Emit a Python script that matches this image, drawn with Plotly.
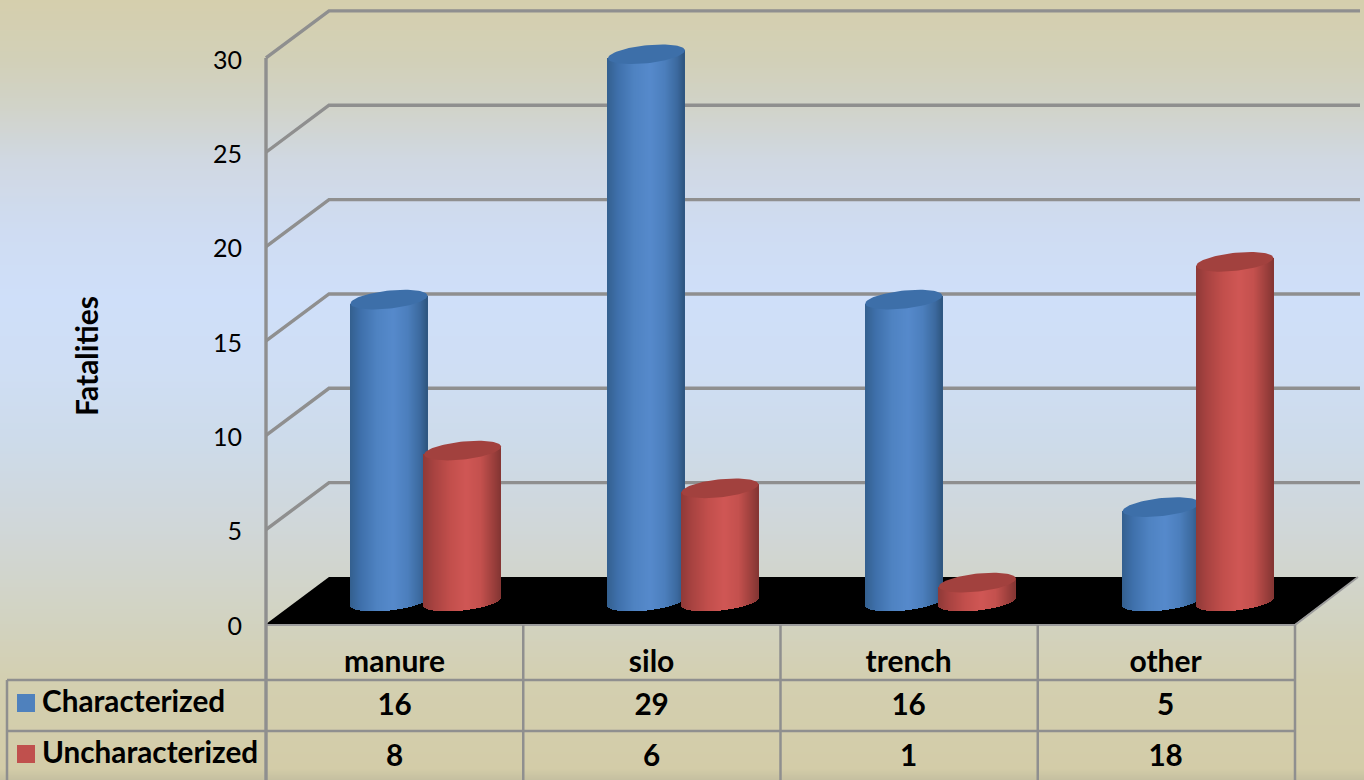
import numpy as np
import plotly.graph_objects as go

# ---- data ----
categories = ["manure", "silo", "trench", "other"]
characterized = [16, 29, 16, 5]
uncharacterized = [8, 6, 1, 18]
y_ticks = [0, 5, 10, 15, 20, 25, 30]
series_names = ["Characterized", "Uncharacterized"]
y_title = "Fatalities"

# ---- canvas geometry: axes span the whole 1364x780 page ----
W, H = 1364, 780
PX_PER_VAL = 18.87
PX_PER_CAT = 257.0
X0_PX, Y0_PX = 394.6, 624.0


def X(px):
    return (np.asarray(px, dtype=float) - X0_PX) / PX_PER_CAT


def Y(py):
    return (Y0_PX - np.asarray(py, dtype=float)) / PX_PER_VAL


x_range = [float(X(0)), float(X(W))]
y_range = [float(Y(H)), float(Y(0))]
FONT = "Lato"
GRID = "#8f8f8f"

fig = go.Figure()

# background gradient
bg_stops = [(0, "#d5cfad"), (60, "#d2d0b8"), (105, "#d1d3c8"), (160, "#d0d8e2"),
            (230, "#cfdcf2"), (300, "#cfdff9"), (370, "#cfdef4"), (440, "#cddbea"),
            (520, "#d0d7da"), (600, "#d2d4c6"), (680, "#d3cfb0"), (768, "#d3cca8"), (780, "#c4bfa0")]
col_scale = [[p / H, c] for p, c in bg_stops]
rows = np.linspace(0, H, 157)
fig.add_trace(go.Heatmap(x=x_range, y=Y(rows), z=[[r, r] for r in rows], zmin=0, zmax=H,
                         colorscale=col_scale, showscale=False, zsmooth="best", hoverinfo="skip"))


def line(px_x, px_y, width=3, color=GRID):
    fig.add_trace(go.Scatter(x=X(px_x), y=Y(px_y), mode="lines", hoverinfo="skip",
                             line=dict(color=color, width=width), showlegend=False))


# depth of the 3D box
DX, DY = 63.0, 47.0
FRONT_L, FRONT_R = 266.0, 1295.0

# back wall grid lines with the diagonal side wall
for v in y_ticks[1:]:
    fy = Y0_PX - v * PX_PER_VAL
    line([FRONT_L, FRONT_L + DX, FRONT_R + DX + 2], [fy, fy - DY, fy - DY], width=3.4)

# floor
fig.add_trace(go.Scatter(
    x=X([FRONT_L, FRONT_L + DX, FRONT_R + DX, FRONT_R, FRONT_L]),
    y=Y([Y0_PX, Y0_PX - DY, Y0_PX - DY, Y0_PX, Y0_PX]),
    mode="lines", fill="toself", fillcolor="#000000", line=dict(color="rgba(0,0,0,0)", width=0),
    hoverinfo="skip", showlegend=False))
line([FRONT_R + DX, FRONT_R, FRONT_L], [Y0_PX - DY, Y0_PX + 1, Y0_PX + 1], width=2, color="#9c9c9c")

# left axis + data table rules
TABLE_ROWS = [680.0, 731.0]
line([FRONT_L, FRONT_L], [Y0_PX - max(y_ticks) * PX_PER_VAL, H], width=3.4)
for i in range(1, len(categories) + 1):
    line([FRONT_L + i * (FRONT_R - FRONT_L) / 4] * 2, [Y0_PX + 1, H], width=2.5)
for ry in TABLE_ROWS:
    line([7, FRONT_R], [ry, ry], width=2.5)
line([7, 7], [TABLE_ROWS[0], H], width=2.5)

# ---- cylinders ----
HALF_W = 38.5
ELL_B = 9.0
ELL_S = 4.0
BASE_PX = 601.5  # centre of the cylinder foot on screen
SLICES = np.arange(-HALF_W + 0.5, HALF_W + 0.5, 1.0)
CYL_SPACING = 257.4
SERIES_DX = [-5.6, 68.0]

shade_pos = [-1.0, -0.72, -0.3, 0.12, 0.5, 0.82, 1.0]
shade_blue = ["#34608f", "#3f70ab", "#4f83c2", "#568acc", "#4c7fbd", "#3c6a9f", "#2f5680"]
shade_red = ["#8f3a38", "#a84341", "#c24f4c", "#d05755", "#c4514e", "#9d403d", "#853634"]
cap_color = ["#3d6fa9", "#a2413e"]


def hex2rgb(h):
    return np.array([int(h[i:i + 2], 16) for i in (1, 3, 5)], dtype=float)


def shades(stops):
    arr = np.array([hex2rgb(s) for s in stops])
    t = SLICES / HALF_W
    return ["rgb(%d,%d,%d)" % tuple(np.interp(tt, shade_pos, arr[:, c]) for c in range(3)) for tt in t]


for s, (vals, stops) in enumerate(zip([characterized, uncharacterized], [shade_blue, shade_red])):
    xa, ya = ("x%d" % (s + 2), "y%d" % (s + 2))
    colors = shades(stops)
    for i, val in enumerate(vals):
        cx = X0_PX + i * CYL_SPACING + SERIES_DX[s]
        t = SLICES / HALF_W
        front = ELL_B * np.sqrt(np.clip(1 - t ** 2, 0, 1))
        tilt = -ELL_S * t
        bottom_px = BASE_PX + tilt + front
        top_px = BASE_PX - val * PX_PER_VAL + tilt
        fig.add_trace(go.Bar(x=X(cx + SLICES), base=Y(bottom_px), y=Y(top_px) - Y(bottom_px),
                             width=1.4 / PX_PER_CAT, marker=dict(color=colors, line=dict(width=0)),
                             xaxis=xa, yaxis=ya, name=series_names[s], hoverinfo="skip", showlegend=False))
        th = np.linspace(0, 2 * np.pi, 90)
        cap_x = cx + HALF_W * np.cos(th)
        cap_y = BASE_PX - val * PX_PER_VAL - ELL_S * np.cos(th) + ELL_B * np.sin(th)
        fig.add_trace(go.Scatter(x=X(cap_x), y=Y(cap_y), mode="lines", fill="toself",
                                 fillcolor=cap_color[s], line=dict(width=0, color=cap_color[s]),
                                 xaxis=xa, yaxis=ya, hoverinfo="skip", showlegend=False))

# ---- table text ----
cat_x = list(range(len(categories)))
TXT = dict(family=FONT, size=29.7, color="#000000", weight="bold")
for row_py, vals in zip([708, 759], [characterized, uncharacterized]):
    fig.add_trace(go.Scatter(x=cat_x, y=Y([row_py] * len(vals)), text=[str(v) for v in vals],
                             mode="text", textposition="middle center", textfont=TXT,
                             hoverinfo="skip", showlegend=False))
for row_py, name, col in zip([702, 753], series_names, ["#4f81bd", "#c0504d"]):
    fig.add_trace(go.Scatter(x=X([26]), y=Y([row_py + 1]), mode="markers", hoverinfo="skip",
                             marker=dict(symbol="square", size=18, color=col), showlegend=False))
    fig.add_trace(go.Scatter(x=X([42]), y=Y([row_py + 3]), text=[name], mode="text",
                             textposition="middle right", textfont=TXT, hoverinfo="skip", showlegend=False))

# ---- axes ----
fig.update_layout(
    width=W, height=H, margin=dict(l=0, r=0, t=0, b=0), barmode="overlay",
    paper_bgcolor="#d3cfb0", plot_bgcolor="rgba(0,0,0,0)", showlegend=False, bargap=0,
    font=dict(family=FONT, color="#000000"),
    xaxis=dict(range=x_range, domain=[0, 1], anchor="free", position=1 - 626 / H, side="bottom",
               tickmode="array", tickvals=cat_x, ticktext=categories,
               tickfont=dict(family=FONT, size=30, color="#000000", weight="bold"),
               ticks="", ticklabelstandoff=15, showgrid=False, zeroline=False, showline=False),
    yaxis=dict(range=y_range, domain=[0, 1], anchor="free", position=FRONT_L / W, side="left",
               tickmode="array", tickvals=y_ticks, ticktext=[str(v) for v in y_ticks],
               tickfont=dict(family=FONT, size=25, color="#000000"),
               ticks="", ticklabelstandoff=24, ticklabelshift=2, showgrid=False, zeroline=False, showline=False),
)
for n in (2, 3):
    fig.update_layout({
        "xaxis%d" % n: dict(range=x_range, overlaying="x", visible=False, anchor="y%d" % n),
        "yaxis%d" % n: dict(range=y_range, overlaying="y", visible=False, anchor="x%d" % n),
    })

fig.add_annotation(x=float(X(86)), y=float(Y(356)), xref="x", yref="y", text="<b>%s</b>" % y_title,
                   textangle=-90, showarrow=False, font=dict(family=FONT, size=30, color="#000000"))

fig.write_html("out.html", config=dict(displayModeBar=False),
               post_script="document.body.style.margin='0';document.body.style.overflow='hidden';")
